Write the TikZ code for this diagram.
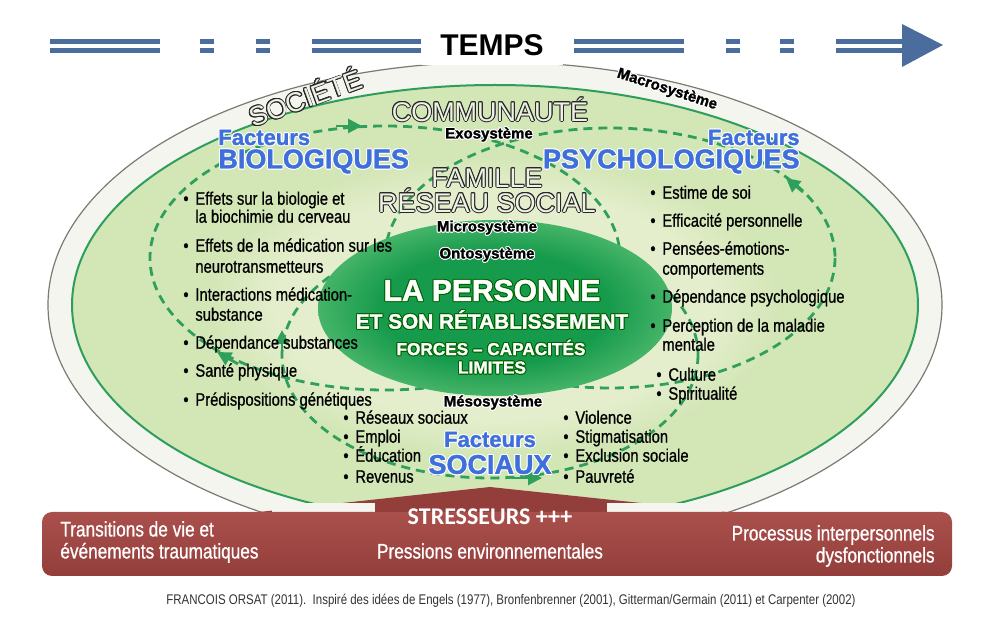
\documentclass[tikz,border=0pt]{standalone}
\usepackage{fontspec}
\setmainfont{Liberation Sans}
\newfontfamily\narrowfont[FakeStretch=0.82, FakeBold=0.8]{Liberation Sans}
\newfontfamily\thinfont[FakeStretch=0.82]{Liberation Sans}
\newfontfamily\heavyfont[FakeBold=1.5]{Liberation Sans Bold}
\newfontfamily\calfont{Carlito}
\usepackage{contour}
\contourlength{0.5pt}
\contournumber{12}
\usetikzlibrary{arrows.meta}

\definecolor{barblue}{HTML}{4A6D9D}
\definecolor{outerfill}{HTML}{F4F5EE}
\definecolor{outerline}{HTML}{7A7A72}
\definecolor{ringfill}{HTML}{D3E6B6}
\definecolor{ringline}{HTML}{2E9E5C}
\definecolor{famfill}{HTML}{E4EECC}
\definecolor{pdark}{HTML}{169A4C}
\definecolor{prim}{HTML}{45B468}
\definecolor{dashgreen}{HTML}{2FA05C}
\definecolor{factblue}{HTML}{3F6FDB}
\definecolor{stresstop}{HTML}{AA504C}
\definecolor{stressbot}{HTML}{933E3B}
\definecolor{hollowfill}{HTML}{EEF2E4}

\pgfdeclareradialshading{personshade}{\pgfpoint{0bp}{0bp}}{color(0bp)=(pdark); color(16bp)=(pdark); color(25bp)=(prim); color(50bp)=(prim)}
\pgfdeclareradialshading{familleshade}{\pgfpoint{0bp}{0bp}}{color(0bp)=(famfill); color(19bp)=(famfill); color(25bp)=(ringfill); color(50bp)=(ringfill)}

\tikzset{
  timebar/.style={draw=barblue, line width=2.5pt, double=white, double distance=2pt},
  loopline/.style={draw=dashgreen, line width=1.4pt, dash pattern=on 4.5pt off 3pt},
  looptip/.style={draw=dashgreen, fill=dashgreen, line width=1.4pt, -{Triangle[length=7pt,width=7pt]}},
  item/.style={font=\narrowfont\fontsize{9}{10}\selectfont, inner sep=0pt, anchor=west, text height=6.5pt, text depth=1.8pt},
  hollow/.style={font=\fontsize{13.5}{12.5}\selectfont, text=hollowfill, inner sep=0pt, align=center},
  systeme/.style={font=\heavyfont\fontsize{7.5}{8}\selectfont, inner sep=0pt},
  facteur/.style={font=\heavyfont\fontsize{11}{12}\selectfont, text=factblue, inner sep=0pt},
  domaine/.style={font=\heavyfont\fontsize{13.5}{14}\selectfont, text=factblue, inner sep=0pt},
  personne/.style={text=white, inner sep=0pt},
  stress/.style={font=\narrowfont\fontsize{10.5}{11}\selectfont, text=white, inner sep=0pt},
}

\begin{document}
\begin{tikzpicture}[x=0.5pt,y=-0.5pt]
\useasboundingbox (0,0) rectangle (992,620);

\draw[outerline, fill=outerfill, line width=0.6pt] (495,305) ellipse [x radius=447, y radius=243];
\draw[ringline, fill=ringfill, line width=1pt] (495,305) ellipse [x radius=423, y radius=220];
\shade[shading=familleshade] (495,305) ellipse [x radius=287, y radius=150];

\draw[loopline] (385,258) ellipse [x radius=235, y radius=132];
\draw[loopline] (610,258) ellipse [x radius=225, y radius=130];
\draw[loopline] (490,355) ellipse [x radius=208, y radius=123];
\draw[looptip] (336,126) -- (362,126);
\draw[looptip] (238,364) -- (217,352);
\draw[looptip] (282,356) -- (282,330);
\draw[looptip] (512,478) -- (542,478);
\draw[looptip] (803,192) -- (786,178);

\shade[shading=personshade] (495,308) ellipse [x radius=177, y radius=88];

\node[hollow, rotate=20] (societe) at (305,97) {\contourlength{0.45pt}\contour{black!85}{SOCIÉTÉ}};
\node[systeme, rotate=-18] (macro) at (667,90) {\contour{white}{Macrosystème}};
\node[hollow] (communaute) at (490,110) {\contourlength{0.45pt}\contour{black!85}{COMMUNAUTÉ}};
\node[systeme] (exo) at (489,135) {\contour{white}{Exosystème}};
\node[hollow] (famille) at (487,191) {\contourlength{0.45pt}\contour{black!85}{FAMILLE}\\\contourlength{0.45pt}\contour{black!85}{RÉSEAU SOCIAL}};
\node[systeme] (micro) at (487,228) {\contour{white}{Microsystème}};
\node[systeme] (onto) at (487,255) {\contour{white}{Ontosystème}};
\node[systeme] (meso) at (493,403) {\contour{white}{Mésosystème}};

\node[personne, font=\heavyfont\fontsize{15}{15}\selectfont] (personne) at (492,291) {\contour{green!40!black}{LA PERSONNE}};
\node[personne, font=\heavyfont\fontsize{10.4}{11}\selectfont] (retab) at (492,320) {\contour{green!40!black}{ET SON RÉTABLISSEMENT}};
\node[personne, font=\heavyfont\fontsize{8.6}{9}\selectfont] (forces) at (491,348) {\contour{green!40!black}{FORCES – CAPACITÉS}};
\node[personne, font=\heavyfont\fontsize{8.6}{9}\selectfont] (limites) at (492,368) {\contour{green!40!black}{LIMITES}};

\node[facteur, anchor=west] (fbio) at (218,138) {\contour{white}{Facteurs}};
\node[domaine, anchor=west] (bio) at (218,162) {\contour{white}{BIOLOGIQUES}};
\node[facteur, anchor=east] (fpsy) at (800,138) {\contour{white}{Facteurs}};
\node[domaine, anchor=east] (psy) at (800,162) {\contour{white}{PSYCHOLOGIQUES}};
\node[facteur] (fsoc) at (490,440) {\contour{white}{Facteurs}};
\node[domaine] (soc) at (490,465) {\contour{white}{SOCIAUX}};

\foreach \yy/\txt in {200/Effets sur la biologie et, 247/Effets de la médication sur les, 296/Interactions médication-, 344/Dépendance substances, 372/Santé physique, 401/Prédispositions génétiques} {
  \node[item] (bbio\yy) at (183,\yy) {\textbullet};
  \node[item] (bio\yy) at (195,\yy) {\txt};
}
\foreach \yy/\txt in {218/la biochimie du cerveau, 268/neurotransmetteurs, 316/substance}
  \node[item] (bio\yy) at (195,\yy) {\txt};

\foreach \yy/\txt in {194/Estime de soi, 222/Efficacité personnelle, 250/Pensées-émotions-, 298/Dépendance psychologique, 327/Perception de la maladie} {
  \node[item] (bpsy\yy) at (650,\yy) {\textbullet};
  \node[item] (psy\yy) at (662,\yy) {\txt};
}
\foreach \yy/\txt in {270/comportements, 346/mentale}
  \node[item] (psy\yy) at (662,\yy) {\txt};
\foreach \yy/\txt in {376/Culture, 395/Spiritualité} {
  \node[item] (bcul\yy) at (656,\yy) {\textbullet};
  \node[item] (cul\yy) at (668,\yy) {\txt};
}

\foreach \yy/\txt in {419/Réseaux sociaux, 438/Emploi, 457/Éducation, 478/Revenus} {
  \node[item] (bsoca\yy) at (343,\yy) {\textbullet};
  \node[item] (soca\yy) at (355,\yy) {\txt};
}
\foreach \yy/\txt in {419/Violence, 438/Stigmatisation, 457/Exclusion sociale, 478/Pauvreté} {
  \node[item] (bsocb\yy) at (563,\yy) {\textbullet};
  \node[item] (socb\yy) at (575,\yy) {\txt};
}

\fill[stressbot] (250,513) -- (490,487) -- (735,513) -- cycle;
\fill[outerfill] (272,503) rectangle (375,513);
\fill[outerfill] (607,503) rectangle (722,513);
\shade[top color=stresstop, bottom color=stressbot, rounded corners=5pt] (42,512) rectangle (952,576);

\node[font=\calfont\bfseries\fontsize{12}{12}\selectfont, text=white] (stresseurs) at (490,517) {STRESSEURS +++};
\node[stress] (pressions) at (490,551) {Pressions environnementales};
\node[stress, anchor=west, align=left] (transitions) at (60,542) {Transitions de vie et\\événements traumatiques};
\node[stress, anchor=east, align=right] (processus) at (935,546) {Processus interpersonnels\\dysfonctionnels};

\node[font=\thinfont\fontsize{7}{8}\selectfont, text=black!80] (source) at (511,601) {FRANCOIS ORSAT (2011).\ \ Inspiré des idées de Engels (1977), Bronfenbrenner (2001), Gitterman/Germain (2011) et Carpenter (2002)};

\foreach \xa/\xb in {50/160, 200/214, 256/270, 312/421, 574/684, 726/740, 780/794, 836/905}
  \draw[timebar] (\xa,46) -- (\xb,46);
\fill[barblue] (902,24) -- (943,45) -- (902,67) -- cycle;
\node[fill=white, minimum width=71pt, minimum height=20pt, font=\bfseries\fontsize{15}{15}\selectfont] (temps) at (492,45) {TEMPS};
\end{tikzpicture}
\end{document}
